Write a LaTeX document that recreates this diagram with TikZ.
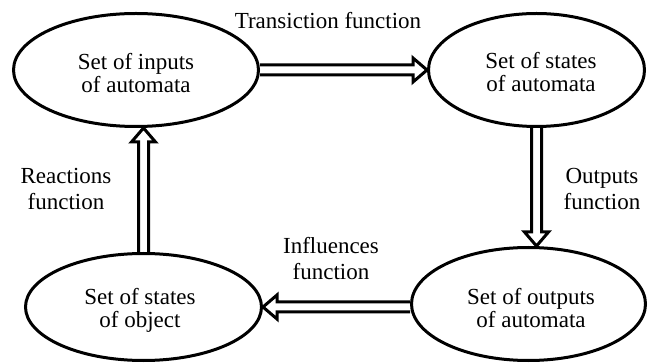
\documentclass[tikz,border=0pt]{standalone}
\usepackage{fontspec}
\setmainfont{Liberation Serif}
\usetikzlibrary{shapes.geometric,calc}
\tikzset{
  ell/.style={ellipse, draw, line width=3pt, inner sep=0pt},
  etxt/.style={align=center, inner sep=0pt, font=\fontsize{23}{23}\selectfont},
  lbl/.style={align=center, inner sep=0pt, font=\fontsize{23}{26}\selectfont},
  hollow/.style={line width=3pt, line join=miter, to path={
    ($(\tikztotarget)!14pt!(\tikztostart)$) coordinate (hb)
    ($(\tikztostart)!5pt!90:(\tikztotarget)$) -- ($(hb)!5pt!90:(\tikztotarget)$)
    -- ($(hb)!12pt!90:(\tikztotarget)$) -- (\tikztotarget)
    -- ($(hb)!12pt!-90:(\tikztotarget)$) -- ($(hb)!5pt!-90:(\tikztotarget)$)
    -- ($(\tikztostart)!5pt!-90:(\tikztotarget)$)
  }}
}
\begin{document}
\begin{tikzpicture}[x=1pt,y=-1pt]
\useasboundingbox (0,0) rectangle (648,363);
% ellipses
\node[ell, minimum width=245pt, minimum height=113pt] (tl) at (136,70) {};
\node[ell, minimum width=216pt, minimum height=113pt] (tr) at (536.5,70) {};
\node[ell, minimum width=236pt, minimum height=107pt] (bl) at (143.5,307) {};
\node[ell, minimum width=234pt, minimum height=113pt] (br) at (528.5,304) {};
% ellipse texts
\node[etxt] (tlt) at (136,73) {Set of inputs\\of automata};
\node[etxt] (trt) at (541,72) {Set of states\\of automata};
\node[etxt] (blt) at (140,310) {Set of states\\of object};
\node[etxt] (brt) at (531,308) {Set of outputs\\of automata};
% helper coordinates
\coordinate (r2) at (tr.south |- br.north);
\coordinate (b1) at (br.west |- bl.east);
\coordinate (l2) at (bl.north |- tl.south);
% arrows
\draw[hollow] (tl.east) to (tr.west);
\draw[hollow] (tr.south) to (r2);
\draw[hollow] (b1) to (bl.east);
\draw[hollow] (bl.north) to (l2);
% labels
\node[lbl] (lt) at (328,20.5) {Transiction function};
\node[lbl] (lr) at (602,189.3) {Outputs\\function};
\node[lbl] (ll) at (66,189.3) {Reactions\\function};
\node[lbl] (lb) at (331,258.5) {Influences\\function};
\end{tikzpicture}
\end{document}
